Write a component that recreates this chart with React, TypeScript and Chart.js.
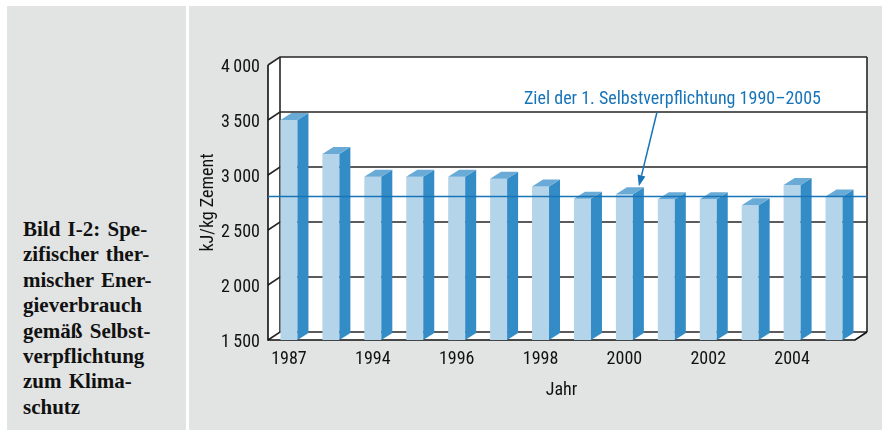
import React, { useEffect, useRef } from "react";
import { Chart, registerables } from "chart.js";

Chart.register(...registerables);

// ---- data ----
const years = ["1987", "1990", "1994", "1995", "1996", "1997", "1998", "1999", "2000", "2001", "2002", "2003", "2004", "2005"];
const energy = [3500, 3190, 2985, 2985, 2985, 2965, 2895, 2785, 2825, 2780, 2780, 2725, 2910, 2805];
const shownYearLabels = ["1987", "1994", "1996", "1998", "2000", "2002", "2004"];
const yTicks = [1500, 2000, 2500, 3000, 3500, 4000];
const target = 2805;
const targetLabel = "Ziel der 1. Selbstverpflichtung 1990–2005";
const targetArrowYear = "2000";
const yTitle = "kJ/kg Zement";
const xTitle = "Jahr";
const caption = ["Bild I-2: Spe-", "zifischer ther-", "mischer Ener-", "gieverbrauch", "gemäß Selbst-", "verpflichtung", "zum Klima-", "schutz"];

// ---- styles ----
const GRAY = "#e2e3e3";
const FRONT = "#b4d4ea";
const SIDE = "#348cc6";
const TOP = "#6aaad6";
const BLUE = "#1874b8";
const NARROW = '"Roboto Condensed", "Liberation Sans", sans-serif';
const DX = 12, DY = 8; // wall depth
const BDX = 11, BDY = 7; // bar depth

const fmt = (v: number) => {
  const th = Math.floor(v / 1000);
  const rest = String(v % 1000).padStart(3, "0");
  return th + "\u2009" + rest;
};

const threeD = {
  id: "threeD",
  beforeDatasetsDraw(chart: any) {
    const { ctx, chartArea } = chart;
    const { left, right, top, bottom } = chartArea;
    const y = chart.scales.y;
    ctx.save();
    ctx.fillStyle = "#fff";
    // back wall
    ctx.fillRect(left + DX, top - DY, right - left, bottom - top);
    // left wall
    ctx.beginPath();
    ctx.moveTo(left, top);
    ctx.lineTo(left + DX, top - DY);
    ctx.lineTo(left + DX, bottom - DY);
    ctx.lineTo(left, bottom);
    ctx.closePath();
    ctx.fill();
    // floor
    ctx.beginPath();
    ctx.moveTo(left, bottom);
    ctx.lineTo(right, bottom);
    ctx.lineTo(right + DX, bottom - DY);
    ctx.lineTo(left + DX, bottom - DY);
    ctx.closePath();
    ctx.fill();
    // grid lines
    ctx.strokeStyle = "#262626";
    ctx.lineWidth = 1.6;
    y.ticks.forEach((t: any) => {
      const py = y.getPixelForValue(t.value);
      ctx.beginPath();
      ctx.moveTo(left, py);
      ctx.lineTo(left + DX, py - DY);
      ctx.lineTo(right + DX, py - DY);
      ctx.stroke();
    });
    // back wall edges
    ctx.beginPath();
    ctx.moveTo(left + DX, top - DY);
    ctx.lineTo(left + DX, bottom - DY);
    ctx.moveTo(right + DX, top - DY);
    ctx.lineTo(right + DX, bottom - DY);
    ctx.stroke();
    // front axis
    ctx.strokeStyle = "#111";
    ctx.beginPath();
    ctx.moveTo(left, top);
    ctx.lineTo(left, bottom);
    ctx.lineTo(right, bottom);
    ctx.lineTo(right + DX, bottom - DY);
    ctx.stroke();
    ctx.restore();
  },
  afterDatasetsDraw(chart: any) {
    const { ctx, chartArea } = chart;
    const { left, right, bottom } = chartArea;
    const y = chart.scales.y;
    const meta = chart.getDatasetMeta(0);
    ctx.save();
    meta.data.forEach((bar: any) => {
      const { x, y: by, base, width } = bar.getProps(["x", "y", "base", "width"], true);
      const b = Math.min(base, bottom);
      const l = x - width / 2;
      const r = x + width / 2;
      ctx.fillStyle = SIDE;
      ctx.beginPath();
      ctx.moveTo(r, by);
      ctx.lineTo(r + BDX, by - BDY);
      ctx.lineTo(r + BDX, b - BDY);
      ctx.lineTo(r, b);
      ctx.closePath();
      ctx.fill();
      ctx.fillStyle = TOP;
      ctx.beginPath();
      ctx.moveTo(l, by);
      ctx.lineTo(l + BDX, by - BDY);
      ctx.lineTo(r + BDX, by - BDY);
      ctx.lineTo(r, by);
      ctx.closePath();
      ctx.fill();
    });
    // target line
    const ty = y.getPixelForValue(target);
    ctx.strokeStyle = BLUE;
    ctx.lineWidth = 1.5;
    ctx.beginPath();
    ctx.moveTo(left, ty);
    ctx.lineTo(right + DX, ty);
    ctx.stroke();
    // annotation text
    ctx.fillStyle = BLUE;
    ctx.font = "18px " + NARROW;
    ctx.textAlign = "right";
    ctx.textBaseline = "alphabetic";
    const textY = y.getPixelForValue(3650);
    ctx.fillText(targetLabel, right - 34, textY);
    // arrow
    const idx = years.indexOf(targetArrowYear);
    const bar = meta.data[idx];
    const { x: bx, y: bY, width: bw } = bar.getProps(["x", "y", "width"], true);
    const tipX = bx + bw / 2 + 6;
    const tipY = bY - BDY - 1;
    const sx = tipX + 18;
    const sy = textY + 9;
    const ang = Math.atan2(tipY - sy, tipX - sx);
    const hl = 11, hw = 4;
    const baseX = tipX - hl * Math.cos(ang);
    const baseY = tipY - hl * Math.sin(ang);
    ctx.beginPath();
    ctx.moveTo(sx, sy);
    ctx.lineTo(baseX, baseY);
    ctx.stroke();
    ctx.beginPath();
    ctx.moveTo(tipX, tipY);
    ctx.lineTo(baseX + hw * Math.sin(ang), baseY - hw * Math.cos(ang));
    ctx.lineTo(baseX - hw * Math.sin(ang), baseY + hw * Math.cos(ang));
    ctx.closePath();
    ctx.fill();
    ctx.restore();
  },
};

function EnergyChart() {
  const ref = useRef<HTMLCanvasElement | null>(null);
  useEffect(() => {
    if (!ref.current) return;
    Chart.defaults.color = "#111";
    const chart = new Chart(ref.current, {
      type: "bar",
      data: {
        labels: years,
        datasets: [
          {
            data: energy,
            backgroundColor: FRONT,
            borderWidth: 0,
            barPercentage: 0.405,
            categoryPercentage: 1,
          },
        ],
      },
      options: {
        animation: false,
        responsive: false,
        devicePixelRatio: 1,
        layout: { padding: { top: 59, right: 27, bottom: 0, left: 0 } },
        plugins: { legend: { display: false }, tooltip: { enabled: false } },
        scales: {
          x: {
            grid: { display: false, drawTicks: false },
            border: { display: false },
            ticks: {
              autoSkip: false,
              maxRotation: 0,
              padding: 9,
              font: { family: NARROW, size: 18 },
              color: "#111",
              callback: (_v: any, i: number) => (shownYearLabels.includes(years[i]) ? years[i] : ""),
            },
            title: {
              display: true,
              text: xTitle,
              font: { family: NARROW, size: 18 },
              color: "#111",
              padding: { top: 0, bottom: 29 },
            },
            afterFit: (s: any) => {
              s.height = 90;
            },
          },
          y: {
            min: 1500,
            max: 4000,
            grid: { display: false, drawTicks: false },
            border: { display: false },
            afterBuildTicks: (s: any) => {
              s.ticks = yTicks.map((v) => ({ value: v }));
            },
            ticks: {
              padding: 8,
              labelOffset: 2,
              font: { family: NARROW, size: 18 },
              color: "#111",
              callback: (v: any) => fmt(Number(v)),
            },
            title: {
              display: true,
              text: yTitle,
              font: { family: NARROW, size: 18 },
              color: "#111",
              padding: { top: 9, bottom: 0 },
            },
            afterFit: (s: any) => {
              s.width = 79;
            },
          },
        },
      },
      plugins: [threeD],
    } as any);
    return () => chart.destroy();
  }, []);
  return <canvas ref={ref} width={693} height={424} style={{ display: "block" }} />;
}

export default function App() {
  return (
    <div style={{ position: "absolute", left: 0, top: 0, width: 882, height: 430, background: "#fff", overflow: "hidden" }}>
      <div style={{ position: "absolute", left: 7, top: 6, width: 179, height: 424, background: GRAY }}>
        <div
          style={{
            position: "absolute",
            left: 16,
            top: 211,
            fontFamily: '"Liberation Serif", "Times New Roman", serif',
            fontWeight: "bold",
            fontSize: 21,
            lineHeight: "25.4px",
            wordSpacing: 2,
            color: "#111",
            whiteSpace: "nowrap",
          }}
        >
          {caption.map((c, i) => (
            <div key={i}>{c}</div>
          ))}
        </div>
      </div>
      <div style={{ position: "absolute", left: 189, top: 6, width: 693, height: 424, background: GRAY }}>
        <EnergyChart />
      </div>
    </div>
  );
}
